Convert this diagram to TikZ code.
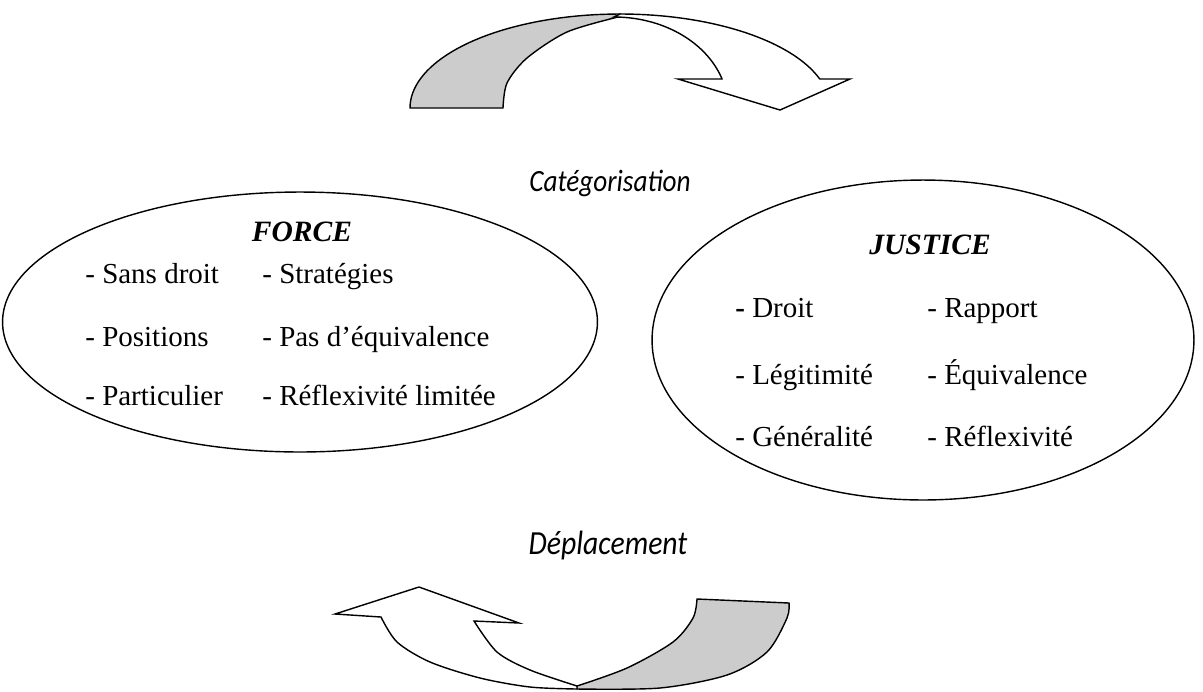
\documentclass[tikz,border=0pt]{standalone}
\usepackage{fontspec}
\setmainfont{Liberation Serif}
\newfontfamily\catfont[FakeStretch=0.88]{Carlito}
\usetikzlibrary{shapes.geometric}

\tikzset{
oval/.style={draw,ellipse,line width=0.8pt,inner sep=0pt},
item/.style={anchor=base west,inner sep=0pt,font=\fontsize{16.5}{20}\selectfont},
title/.style={inner sep=0pt,font=\fontsize{16.8}{20}\selectfont\bfseries\itshape},
ribbon/.style={draw,line width=0.8pt,line join=miter}
}

\begin{document}
\begin{tikzpicture}[x=0.02cm,y=-0.02cm]
\useasboundingbox (0,0) rectangle (1203,691);

\node[oval,minimum width=11.9cm,minimum height=5.2cm] (force) at (300,322) {};
\node[oval,minimum width=10.84cm,minimum height=6.4cm] (justice) at (923,340) {};

\node[title] (forcet) at (302,232) {FORCE};
\node[title] (justicet) at (930,245) {JUSTICE};

\foreach \i/\a/\b/\y in {1/Sans droit/Stratégies/283,2/Positions/Pas d’équivalence/346,3/Particulier/Réflexivité limitée/405} {
\node[item] (fa\i) at (85,\y) {- \a};
\node[item] (fb\i) at (262,\y) {- \b};
}

\foreach \i/\a/\b/\y in {1/{\textbf{-} Droit}/Rapport/317,2/- Légitimité/Équivalence/384,3/- Généralité/Réflexivité/446} {
\node[item] (ja\i) at (735,\y) {\a};
\node[item] (jb\i) at (927,\y) {- \b};
}

\node[inner sep=0pt,font=\catfont\itshape\fontsize{17.6}{20}\selectfont] (categ) at (610,183) {Catégorisation};
\node[inner sep=0pt,font=\catfont\itshape\fontsize{19.2}{22}\selectfont] (deplac) at (608,545) {Déplacement};

% fleche du haut
\draw[ribbon,fill=gray!40] plot[domain=180:90,samples=40] ({620+210*cos(\x)},{108-94*sin(\x)})
-- plot[smooth] coordinates {(618,17) (567,32) (527,58) (507,83) (503,108)} -- cycle;
\draw[ribbon,fill=white] plot[domain=90:18,samples=40] ({620+210*cos(\x)},{108-94*sin(\x)})
-- (850,79) -- (780,110) -- (678,79) -- (722,79)
-- plot[domain=18.6:90,samples=40] ({614+114*cos(\x)},{108-91*sin(\x)}) -- cycle;

% fleche du bas
\draw[ribbon,fill=gray!40] (697,599) -- (789,603)
-- plot[smooth] coordinates {(789,603) (787,618) (767,652) (727,675) (660,688) (577,689)}
-- plot[smooth] coordinates {(577,686) (627,668) (673,642) (693,618) (697,599)} -- cycle;
\draw[ribbon,fill=white] plot[smooth] coordinates {(577,689) (530,687) (480,678) (430,662) (397,642) (381,617)}
-- (335,614) -- (419,587) -- (519,623) -- (474,621)
-- plot[smooth] coordinates {(474,621) (497,652) (530,670) (577,686)} -- cycle;

\end{tikzpicture}
\end{document}
